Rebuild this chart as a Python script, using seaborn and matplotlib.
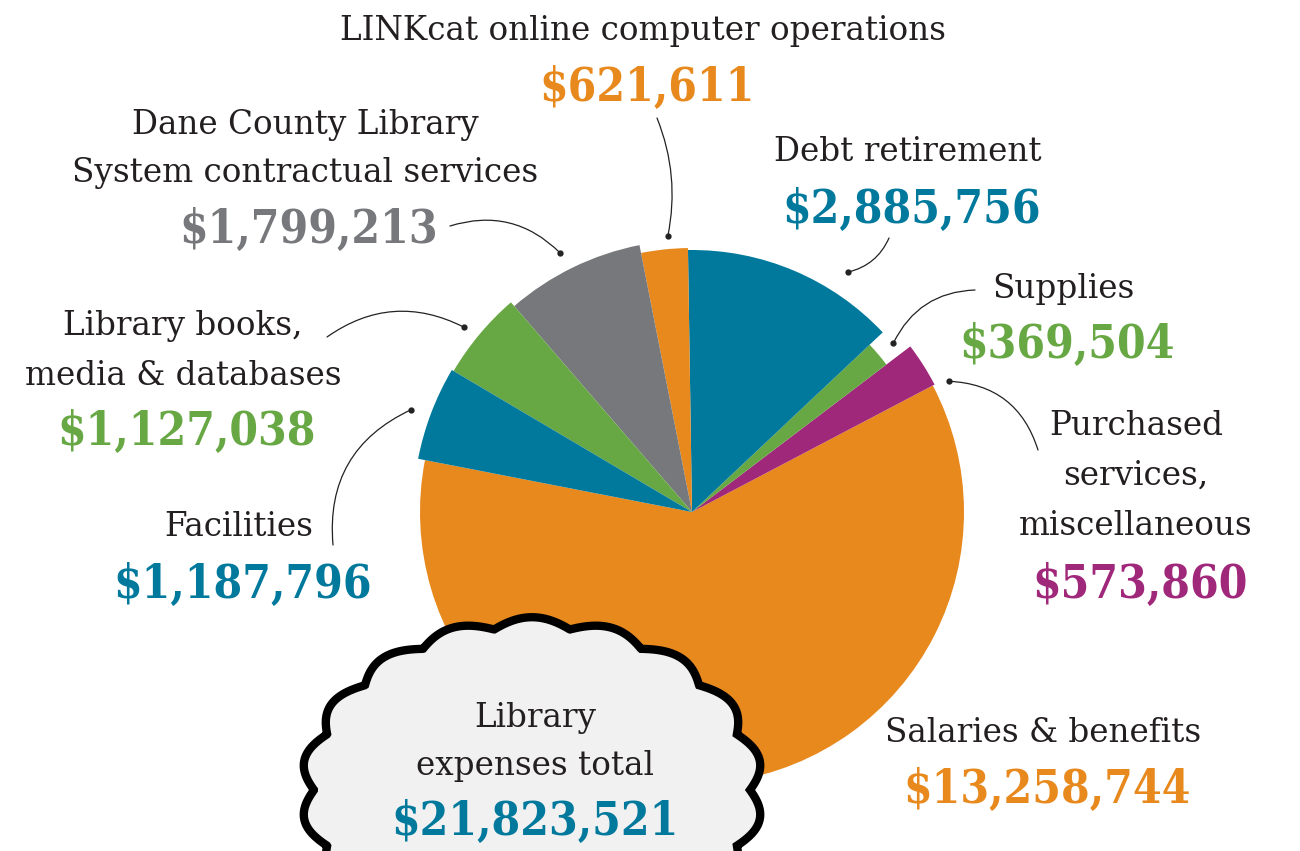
import numpy as np
import matplotlib
matplotlib.use("Agg")
import matplotlib.pyplot as plt
import seaborn as sns

# data
categories = ["Salaries & benefits", "Purchased services, miscellaneous", "Supplies",
              "Debt retirement", "LINKcat online computer operations",
              "Dane County Library System contractual services",
              "Library books, media & databases", "Facilities"]
amounts = [13258744, 573860, 369504, 2885756, 621611, 1799213, 1127038, 1187796]
label_lines = [["Salaries & benefits"],
               ["Purchased", "services,", "miscellaneous"],
               ["Supplies"],
               ["Debt retirement"],
               ["LINKcat online computer operations"],
               ["Dane County Library", "System contractual services"],
               ["Library books,", "media & databases"],
               ["Facilities"]]
total_lines = ["Library", "expenses total"]
total_amount = 21823521

# style
orange, teal, green, gray, purple = "#E8891E", "#00799C", "#67A844", "#77787B", "#A0287B"
colors = [orange, purple, green, teal, orange, gray, green, teal]
radii = [272, 274, 244, 262, 264, 272, 277, 279]
H = 851
center = (692, H - 512)

sns.set_theme(style="white")
plt.rcParams['font.family'] = ['DejaVu Serif']
text_color = "#231F20"
label_size = 23.5
number_size = 33

fig = plt.figure(figsize=(13, 8.51), dpi=100)
ax = fig.add_axes([0, 0, 1, 1])
wedges, _ = ax.pie(amounts, colors=colors, startangle=169, counterclock=True,
                   center=center, radius=270, wedgeprops=dict(linewidth=0))
for w, r in zip(wedges, radii):
    w.set_radius(r)
ax.set_xlim(0, 1300)
ax.set_ylim(0, H)
ax.set_aspect('equal')
ax.axis('off')

# label layout: x center, y of first line (pixel from top), line step, number y
label_pos = [(1043, 733, 50, 790),
             (1136, 426, 50, 585),
             (1063, 289, 50, 345),
             (908, 152, 50, 210),
             (643, 31, 50, 88),
             (305, 125, 48, 230),
             (183, 326, 50, 432),
             (239, 527, 50, 585)]
for lines, amt, col, (x, y0, dy, yn) in zip(label_lines, amounts, colors, label_pos):
    for i, line in enumerate(lines):
        ax.text(x, H - (y0 + i * dy), line, ha='center', va='center',
                fontsize=label_size, color=text_color)
    ax.text(x + 4, H - yn, f"${amt:,}", ha='center', va='center', fontsize=number_size,
            fontweight='bold', fontstretch='condensed', color=col)

# leader lines: start point (pixels), dot angle (deg), dot radius, curvature
leaders = [None,
           ((1038, 450), 27, 288, 0.35),
           ((975, 290), 40, 263, 0.3),
           ((889, 238), 57, 286, -0.25),
           ((657, 118), 95, 277, -0.15),
           ((450, 226), 117, 291, -0.3),
           ((327, 337), 141, 294, -0.3),
           ((333, 545), 160, 299, -0.35)]
for ld in leaders:
    if ld is None:
        continue
    (sx, sy), ang, r, rad = ld
    dx = center[0] + r * np.cos(np.radians(ang))
    dy = center[1] + r * np.sin(np.radians(ang))
    ax.annotate("", xy=(dx, dy), xytext=(sx, H - sy),
                arrowprops=dict(arrowstyle='-', color='#222222', lw=0.9,
                                connectionstyle=f'arc3,rad={rad}',
                                shrinkA=0, shrinkB=0))
    ax.plot(dx, dy, 'o', color='#222222', ms=3.5)

# cloud
t = np.linspace(0, 2 * np.pi, 2000)
bump = 1 + 0.06 * np.abs(np.sin(18 * t / 2))
cx, cy = 532, H - 790
ax.fill(cx + 218 * bump * np.cos(t), cy + 163 * bump * np.sin(t),
        facecolor='#F1F1F1', edgecolor='black', lw=6, zorder=5)
ax.text(535, H - 718, total_lines[0], ha='center', va='center', fontsize=label_size,
        color=text_color, zorder=6)
ax.text(535, H - 766, total_lines[1], ha='center', va='center', fontsize=label_size,
        color=text_color, zorder=6)
ax.text(535, H - 822, f"${total_amount:,}", ha='center', va='center', fontsize=number_size,
        fontweight='bold', fontstretch='condensed', color=teal, zorder=6)

fig.savefig("out.png", dpi=100)
